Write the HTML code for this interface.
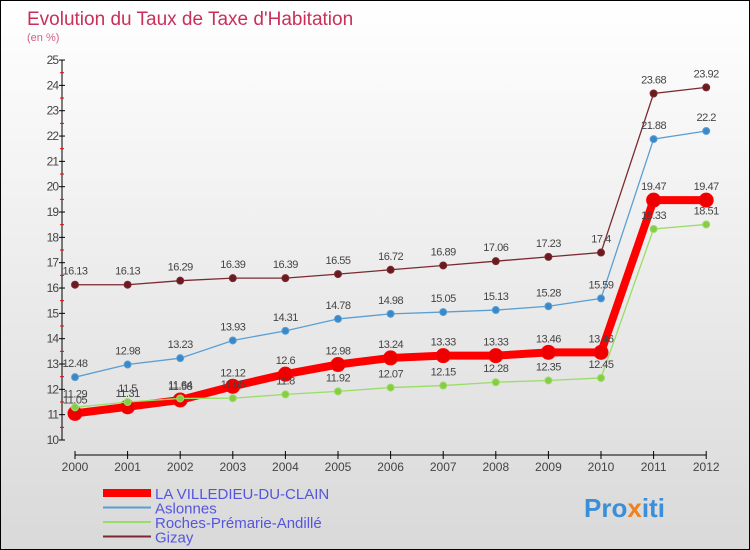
<!DOCTYPE html>
<html><head><meta charset="utf-8"><style>
body{margin:0}
#c{width:748px;height:548px;border:1px solid #000;background:linear-gradient(#fff,#d9d9d9);position:relative;font-family:"Liberation Sans",sans-serif;overflow:hidden}
</style></head><body>
<div id="c">
<svg width="748" height="548" id="svg" style="position:absolute;left:0;top:0">
<text x="26" y="24" font-size="19" fill="#c8305a">Evolution du Taux de Taxe d'Habitation</text>
<text x="26" y="40" font-size="11" fill="#d0608a">(en %)</text>
<g id="axes"></g><g id="series"></g><g id="legend"></g>
<text x="583" y="516" font-size="26" font-weight="bold" fill="#3a8fd8">Pro<tspan fill="#f08020">x</tspan>iti</text>
</svg></div>
<script>
const years=[2000,2001,2002,2003,2004,2005,2006,2007,2008,2009,2010,2011,2012];
const villedieu=[11.05,11.31,11.58,12.12,12.6,12.98,13.24,13.33,13.33,13.46,13.46,19.47,19.47];
const aslonnes=[12.48,12.98,13.23,13.93,14.31,14.78,14.98,15.05,15.13,15.28,15.59,21.88,22.2];
const roches=[11.29,11.5,11.64,11.65,11.8,11.92,12.07,12.15,12.28,12.35,12.45,18.33,18.51];
const gizay=[16.13,16.13,16.29,16.39,16.39,16.55,16.72,16.89,17.06,17.23,17.4,23.68,23.92];
const yTicks=[10,11,12,13,14,15,16,17,18,19,20,21,22,23,24,25];
const NS="http://www.w3.org/2000/svg";
const X=i=>74+i*52.6;
const Y=v=>439-(v-10)*25.33;
function mk(t,a,p){const e=document.createElementNS(NS,t);for(const k in a)e.setAttribute(k,a[k]);p.appendChild(e);return e;}
const ax=document.getElementById('axes');
let l=mk('line',{x1:61,y1:Y(25),x2:61,y2:Y(10),stroke:'#000'},ax);


l=mk('line',{x1:X(0),y1:454,x2:X(12),y2:454,stroke:'#000'},ax);


yTicks.forEach(v=>{
 mk('line',{x1:58,x2:64,y1:Y(v),y2:Y(v),stroke:'#000'},ax);
 if(v<25)mk('line',{x1:59,x2:63,y1:Y(v+0.5),y2:Y(v+0.5),stroke:'#e00'},ax);
 const t=mk('text',{x:57,y:Y(v)+4,'font-size':12,'text-anchor':'end',fill:'#444','letter-spacing':'-1'},ax);
 t.textContent=v;
 
 
});
years.forEach((y,i)=>{
 mk('line',{x1:X(i),x2:X(i),y1:450,y2:458,stroke:'#000'},ax);
 const t=mk('text',{x:X(i),y:470,'font-size':12,'text-anchor':'middle',fill:'#444'},ax);
 t.textContent=y;
 
 
});
const sg=document.getElementById('series');
function draw(vals,color,dot,w,r,name){
 const g=mk('g',{},sg);
 
 
 mk('polyline',{points:vals.map((v,i)=>X(i)+','+Y(v)).join(' '),fill:'none',stroke:color,'stroke-width':w},g);
 vals.forEach((v,i)=>{
  const c=mk('circle',{cx:X(i),cy:Y(v),r:r,fill:dot,stroke:color==dot?'none':color},g);
  
  
  const t=mk('text',{x:X(i),y:Y(v)-10,'font-size':11,'text-anchor':'middle',fill:'#444','letter-spacing':'-0.5'},g);
  t.textContent=v;
  
  
 });
}
draw(gizay,'#7a2a30','#6a1a20',1.3,3.5,'series-gizay');
draw(aslonnes,'#5a9fd4','#3a88c8',1.3,3.5,'series-aslonnes');
draw(villedieu,'#ff0000','#ee0000',8,7,'series-la-villedieu');
draw(roches,'#99dd66','#88cc44',1.3,3.5,'series-roches');
const lg=document.getElementById('legend');
[['LA VILLEDIEU-DU-CLAIN','#ff0000',8],['Aslonnes','#5a9fd4',2],['Roches-Prémarie-Andillé','#99dd66',2],['Gizay','#7a2a30',2]].forEach((e,i)=>{
 const y=492+i*14.5;
 const g=mk('g',{},lg);
 
 
 mk('line',{x1:102,x2:150,y1:y,y2:y,stroke:e[1],'stroke-width':e[2]},g);
 const t=mk('text',{x:154,y:y+6,'font-size':15,fill:'#5555dd'},g);
 t.textContent=e[0];
});
</script></body></html>
